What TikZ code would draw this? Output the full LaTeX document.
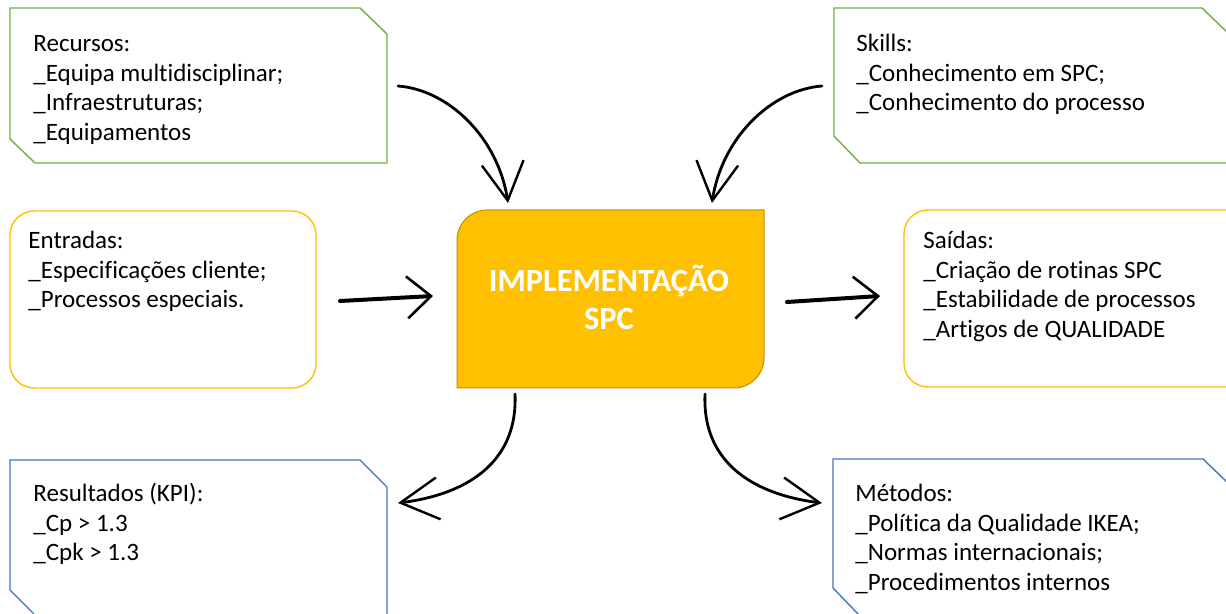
\documentclass[tikz,border=0pt]{standalone}
\usepackage{fontspec}
\setmainfont{Carlito}[RawFeature={-liga}]
\usetikzlibrary{arrows.meta,bending}
\definecolor{boxgreen}{HTML}{70AD47}
\definecolor{boxyellow}{HTML}{FFC000}
\definecolor{boxblue}{HTML}{4472C4}
\definecolor{coreedge}{HTML}{BF9000}
\newcommand{\boxlines}[1]{\begin{tabular}[t]{@{}l@{}}#1\end{tabular}}
\newcommand{\corelines}[1]{\begin{tabular}[t]{@{}c@{}}#1\end{tabular}}
\begin{document}
\begin{tikzpicture}[x=0.5pt,y=-0.5pt,
  txt/.style={anchor=base west,inner sep=0pt,font=\fontsize{12.5}{14.75}\selectfont},
  coretxt/.style={anchor=base,inner sep=0pt,text=white,font=\bfseries\fontsize{16.2}{19}\selectfont},
  gbox/.style={draw=boxgreen,line width=0.7pt},
  ybox/.style={draw=boxyellow,line width=0.7pt,rounded corners=12pt},
  bbox/.style={draw=boxblue,line width=0.7pt},
  corebox/.style={fill=boxyellow,draw=coreedge,line width=0.5pt},
  flow/.style={line width=2pt,line cap=round,-{Straight Barb[length=12pt,width=21pt,line width=1.3pt]}},
  curv/.style={line width=1.4pt,line cap=round,-{Straight Barb[length=19pt,width=21pt,line width=1.2pt]}}]
\useasboundingbox (0,0) rectangle (1226,614);
\clip (0,0) rectangle (1226,614);

% boxes
\draw[gbox] (10,8) -- (360,8) -- (387,34) -- (387,163) -- (35,163) -- (10,139) -- cycle;
\draw[gbox] (834,8) -- (1202,8) -- (1230,35) -- (1230,163) -- (860,163) -- (834,136) -- cycle;
\draw[ybox] (10,211) rectangle (316,388);
\draw[ybox] (904,210) rectangle (1250,387);
\draw[bbox] (34,614) -- (10,590) -- (10,460) -- (360,460) -- (387,487) -- (387,640);
\draw[bbox] (860,616) -- (833,588) -- (833,459) -- (1203,459) -- (1230,485) -- (1230,640);
\draw[corebox] (457,388) -- (457,240) .. controls (457,223.4) and (470.4,210) .. (487,210)
  -- (764,210) -- (764,358) .. controls (764,374.6) and (750.6,388) .. (734,388) -- cycle;

% texts
\node[txt] (recursos) at (33,52) {\boxlines{Recursos:\\\_Equipa multidisciplinar;\\\_Infraestruturas;\\\_Equipamentos}};
\node[txt] (skills) at (856,52) {\boxlines{Skills:\\\_Conhecimento em SPC;\\\_Conhecimento do processo}};
\node[txt] (entradas) at (28,249) {\boxlines{Entradas:\\\_Especificações cliente;\\\_Processos especiais.}};
\node[txt] (saidas) at (923,249) {\boxlines{Saídas:\\\_Criação de rotinas SPC\\\_Estabilidade de processos\\\_Artigos de QUALIDADE}};
\node[txt] (resultados) at (33,502) {\boxlines{Resultados (KPI):\\\_Cp > 1.3\\\_Cpk > 1.3}};
\node[txt] (metodos) at (855,502) {\boxlines{Métodos:\\\_Política da Qualidade IKEA;\\\_Normas internacionais;\\\_Procedimentos internos}};
\node[coretxt] (core) at (609,292) {\corelines{IMPLEMENTAÇÃO\\SPC}};

% arrow end points
\coordinate (a1s) at (398,86);  \coordinate (a1e) at (508,203);
\coordinate (a2s) at (822,86);  \coordinate (a2e) at (712,203);
\coordinate (a3s) at (340,301); \coordinate (a3e) at (433,296);
\coordinate (a4s) at (787,302); \coordinate (a4e) at (880,296);
\coordinate (a5s) at (515,394); \coordinate (a5e) at (398,503);
\coordinate (a6s) at (705,394); \coordinate (a6e) at (822,503);

\draw[curv] (a1s) .. controls (450,90) and (500,140) .. (a1e);
\draw[curv] (a2s) .. controls (770,90) and (720,140) .. (a2e);
\draw[flow] (a3s) -- (a3e);
\draw[flow] (a4s) -- (a4e);
\draw[curv] (a5s) .. controls (518,460) and (470,495) .. (a5e);
\draw[curv] (a6s) .. controls (702,460) and (750,495) .. (a6e);
\end{tikzpicture}
\end{document}
